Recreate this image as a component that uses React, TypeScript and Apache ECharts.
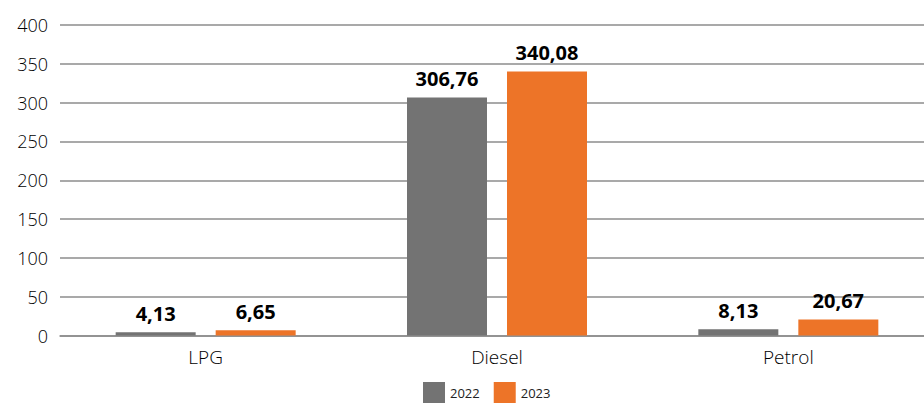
import React, { useEffect, useRef } from "react";
import * as echarts from "echarts";

const categories = ["LPG", "Diesel", "Petrol"];
const values2022 = [4.13, 306.76, 8.13];
const values2023 = [6.65, 340.08, 20.67];
const seriesNames = ["2022", "2023"];

const fmt = (v: number) => v.toFixed(2).replace(".", ",");

export default function App() {
  const ref = useRef<HTMLDivElement>(null);
  useEffect(() => {
    if (!ref.current) return;
    const chart = echarts.init(ref.current, null, { renderer: "svg" });
    const font = "'Open Sans', 'DejaVu Sans', sans-serif";
    const labelStyle = {
      show: true,
      position: "top" as const,
      distance: 9,
      formatter: (p: any) => fmt(p.value),
      color: "#000",
      fontWeight: "bold" as const,
      fontSize: 20,
      fontFamily: font,
    };
    chart.setOption({
      animation: false,
      grid: { left: 60, right: 0, top: 25, bottom: 73.5, containLabel: false },
      legend: {
        data: seriesNames,
        bottom: 1,
        left: 418,
        itemWidth: 22,
        itemHeight: 21,
        itemGap: 14,
        textStyle: { fontSize: 13, color: "#222", fontFamily: font },
        icon: "rect",
      },
      xAxis: {
        type: "category",
        data: categories,
        axisTick: { show: false },
        axisLine: { show: true, lineStyle: { color: "#8c8c8c", width: 1.5 } },
        axisLabel: { fontSize: 19, color: "#000", margin: 12, fontFamily: font, fontWeight: 300 },
      },
      yAxis: {
        type: "value",
        min: 0,
        max: 400,
        interval: 50,
        axisLine: { show: false },
        axisTick: { show: false },
        splitLine: { lineStyle: { color: "#8c8c8c", width: 1.5 } },
        axisLabel: { fontSize: 18, color: "#000", margin: 12, fontFamily: font, fontWeight: 300 },
      },
      series: [
        {
          name: seriesNames[0],
          type: "bar",
          data: values2022,
          barWidth: 80,
          barGap: "25%",
          itemStyle: { color: "#737373" },
          label: labelStyle,
        },
        {
          name: seriesNames[1],
          type: "bar",
          data: values2023,
          barWidth: 80,
          barGap: "25%",
          itemStyle: { color: "#ED7428" },
          label: labelStyle,
        },
      ],
    });
    return () => chart.dispose();
  }, []);
  return (
    <div
      style={{
        position: "absolute",
        left: 0,
        top: 0,
        width: 924,
        height: 409,
        overflow: "hidden",
      }}
    >
      <div ref={ref} style={{ width: 934, height: 409 }} />
    </div>
  );
}
